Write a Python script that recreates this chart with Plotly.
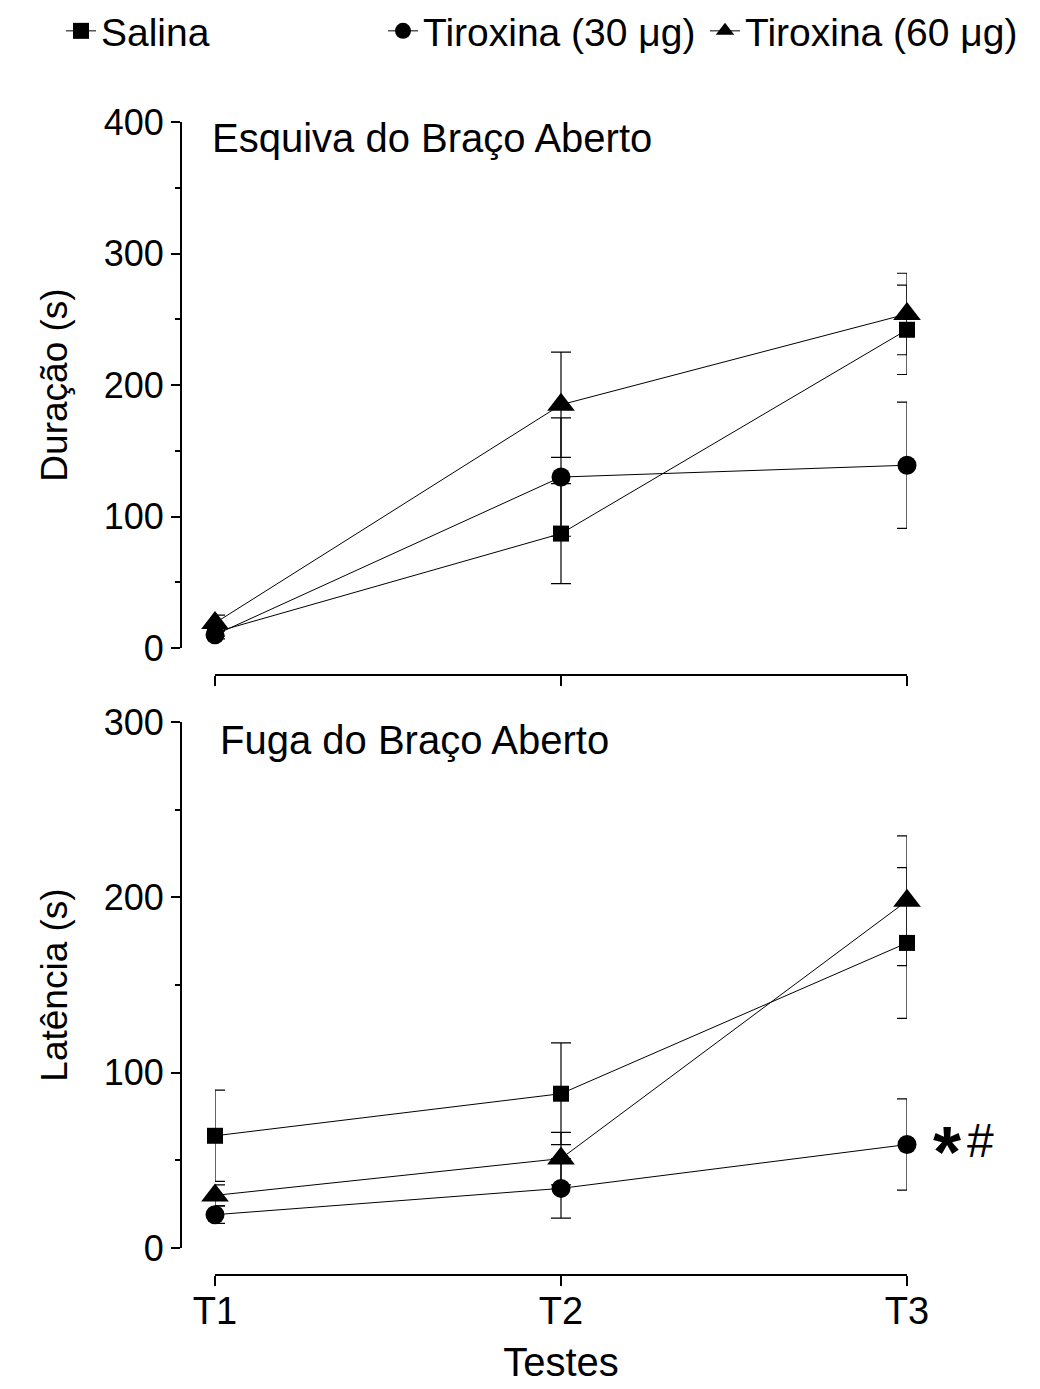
import plotly.graph_objects as go

# ---- data ----
tests = ["T1", "T2", "T3"]
x_pos = [0, 1, 2]
series_names = ["Salina", "Tiroxina (30 μg)", "Tiroxina (60 μg)"]
symbols = ["square", "circle", "triangle-up"]
sizes = [16, 19, 24]

# Esquiva do Braço Aberto (duração, s)
esq_salina = [12, 87, 242]
esq_salina_err = [3, 38, 34]
esq_t30 = [10, 130, 139]
esq_t30_err = [3, 45, 48]
esq_t60 = [19, 185, 254]
esq_t60_err = [6, 40, 31]

# Fuga do Braço Aberto (latência, s)
fuga_salina = [64, 88, 174]
fuga_salina_err = [26, 29, 43]
fuga_t30 = [19, 34, 59]
fuga_t30_err = [5, 17, 26]
fuga_t60 = [30, 51, 198]
fuga_t60_err = [6, 15, 37]

W, H = 1040, 1389
OFF = 8  # page body margin
FONT = "Liberation Sans, Arial, sans-serif"

def px_x(p):
    return (p - OFF) / W

def px_y(p):
    return 1 - (p - OFF) / H

fig = go.Figure()

top = [(esq_salina, esq_salina_err), (esq_t30, esq_t30_err), (esq_t60, esq_t60_err)]
bot = [(fuga_salina, fuga_salina_err), (fuga_t30, fuga_t30_err), (fuga_t60, fuga_t60_err)]

for i, (vals, errs) in enumerate(top):
    fig.add_trace(go.Scatter(
        x=x_pos, y=vals, mode="lines+markers", name=series_names[i],
        xaxis="x", yaxis="y", cliponaxis=False, legendgroup=str(i),
        line=dict(color="black", width=1),
        marker=dict(symbol=symbols[i], size=sizes[i], color="black"),
        error_y=dict(type="data", array=errs, visible=True, color="black", thickness=1.2, width=10),
    ))
for i, (vals, errs) in enumerate(bot):
    fig.add_trace(go.Scatter(
        x=x_pos, y=vals, mode="lines+markers", name=series_names[i],
        xaxis="x2", yaxis="y2", cliponaxis=False, legendgroup=str(i), showlegend=False,
        line=dict(color="black", width=1),
        marker=dict(symbol=symbols[i], size=sizes[i], color="black"),
        error_y=dict(type="data", array=errs, visible=True, color="black", thickness=1.2, width=10),
    ))

xdom = [px_x(215), px_x(907)]
yax_common = dict(anchor="free", position=px_x(181), showline=True, linecolor="black", linewidth=2,
                  ticks="outside", ticklen=9, tickwidth=2, tickcolor="black", showgrid=False,
                  zeroline=False, tickfont=dict(size=36, color="black", family=FONT),
                  minor=dict(dtick=50, ticks="outside", ticklen=5, tickwidth=2, tickcolor="black", showgrid=False))
xax_common = dict(domain=xdom, range=[0, 2], tickvals=x_pos, ticktext=tests, showline=True,
                  linecolor="black", linewidth=2, ticks="outside", ticklen=10, tickwidth=2,
                  tickcolor="black", showgrid=False, zeroline=False,
                  tickfont=dict(size=38, color="black", family=FONT))

fig.update_layout(
    width=W, height=H,
    margin=dict(l=0, r=0, t=0, b=0, autoexpand=False),
    plot_bgcolor="white", paper_bgcolor="white",
    font=dict(family=FONT, color="black"),
    xaxis=dict(xax_common, anchor="free", position=px_y(675), showticklabels=False),
    yaxis=dict(yax_common, domain=[px_y(648), px_y(122)], range=[0, 400], dtick=100,
               title=dict(text="Duração (s)", font=dict(size=37, color="black", family=FONT), standoff=24)),
    xaxis2=dict(xax_common, anchor="free", position=px_y(1275), ticklabelstandoff=-8,
                title=dict(text="Testes", font=dict(size=40, color="black", family=FONT), standoff=16)),
    yaxis2=dict(yax_common, domain=[px_y(1248), px_y(722)], range=[0, 300], dtick=100,
                title=dict(text="Latência (s)", font=dict(size=37, color="black", family=FONT), standoff=24)),
    legend=dict(orientation="h", x=px_x(61), xanchor="left", y=1 + 9 / H, yanchor="top",
                entrywidth=277, entrywidthmode="pixels",
                font=dict(size=39, color="black", family=FONT), bgcolor="rgba(0,0,0,0)"),
    showlegend=True,
)

fig.add_annotation(text="Esquiva do Braço Aberto", xref="paper", yref="paper",
                   x=px_x(210), y=px_y(138), xanchor="left", yanchor="middle", showarrow=False,
                   font=dict(size=40, color="black", family=FONT))
fig.add_annotation(text="Fuga do Braço Aberto", xref="paper", yref="paper",
                   x=px_x(218), y=px_y(740), xanchor="left", yanchor="middle", showarrow=False,
                   font=dict(size=40, color="black", family=FONT))
fig.add_annotation(text="<b>*</b>", xref="x2", yref="y2", x=x_pos[2], y=fuga_t30[2],
                   xshift=40, yshift=-7, showarrow=False,
                   font=dict(size=72, color="black", family=FONT))
fig.add_annotation(text="#", xref="x2", yref="y2", x=x_pos[2], y=fuga_t30[2],
                   xshift=73, yshift=4, showarrow=False,
                   font=dict(size=48, color="black", family=FONT))

fig.write_html("out.html")
